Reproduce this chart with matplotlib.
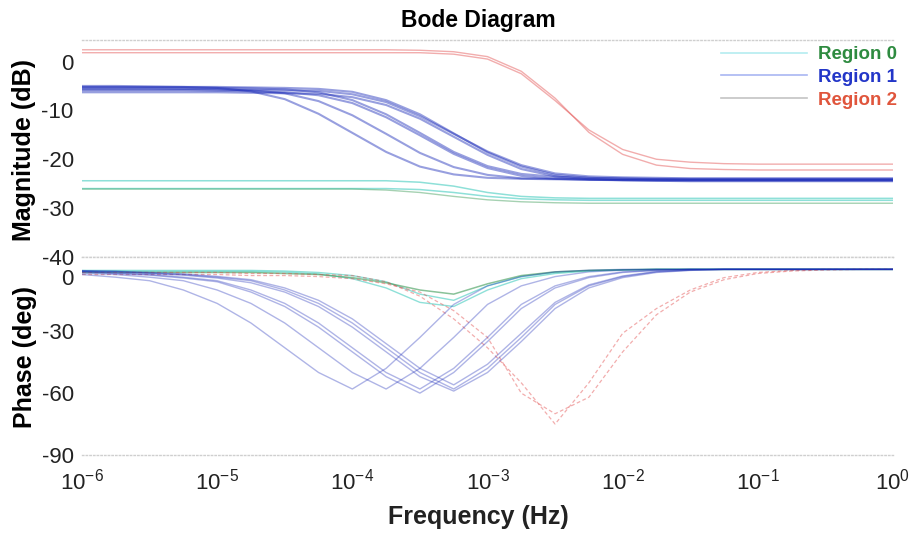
import matplotlib
matplotlib.use("Agg")
import matplotlib.pyplot as plt
from matplotlib.lines import Line2D

plt.rcParams['font.family'] = ['Liberation Sans', 'DejaVu Sans']
plt.rcParams['mathtext.fontset'] = 'custom'
plt.rcParams['mathtext.rm'] = 'Liberation Sans'
plt.rcParams['mathtext.it'] = 'Liberation Sans:italic'
plt.rcParams['mathtext.bf'] = 'Liberation Sans:bold'
plt.rcParams['axes.unicode_minus'] = False

# ---------------- data ----------------
freq = [1e-6, 1.778e-6, 3.162e-6, 5.623e-6,
        1e-5, 1.778e-5, 3.162e-5, 5.623e-5,
        1e-4, 1.778e-4, 3.162e-4, 5.623e-4,
        1e-3, 1.778e-3, 3.162e-3, 5.623e-3,
        1e-2, 1.778e-2, 3.162e-2, 5.623e-2,
        1e-1, 1.778e-1, 3.162e-1, 5.623e-1,
        1.0]

# Region 1 (blue) magnitude, dB
mag_r1_a = [-5.0, -5.0, -5.1, -5.2, -5.4, -6.1, -7.7, -10.7, -14.6, -18.5, -21.5, -23.1, -23.8, -24.0, -24.1,
            -24.2, -24.2, -24.2, -24.2, -24.2, -24.2, -24.2, -24.2, -24.2, -24.2]
mag_r1_b = [-5.5, -5.5, -5.5, -5.6, -5.7, -5.9, -6.5, -8.1, -11.0, -14.8, -18.7, -21.6, -23.2, -23.9, -24.0,
            -24.1, -24.2, -24.2, -24.2, -24.2, -24.2, -24.2, -24.2, -24.2, -24.2]
mag_r1_c = [-5.3, -5.3, -5.3, -5.3, -5.4, -5.5, -5.7, -6.3, -7.9, -10.8, -14.6, -18.5, -21.4, -23.0, -23.6,
            -23.8, -23.9, -24.0, -24.0, -24.0, -24.0, -24.0, -24.0, -24.0, -24.0]
mag_r1_d = [-5.9, -5.9, -5.9, -5.9, -6.0, -6.1, -6.3, -6.9, -8.5, -11.4, -15.1, -18.9, -21.8, -23.4, -24.0,
            -24.2, -24.3, -24.4, -24.4, -24.4, -24.4, -24.4, -24.4, -24.4, -24.4]
mag_r1_e = [-5.2, -5.2, -5.2, -5.2, -5.2, -5.3, -5.4, -5.6, -6.2, -7.9, -10.8, -14.7, -18.6, -21.5, -23.2,
            -23.8, -24.0, -24.1, -24.2, -24.2, -24.2, -24.2, -24.2, -24.2, -24.2]
mag_r1_f = [-6.3, -6.3, -6.3, -6.3, -6.3, -6.4, -6.5, -6.6, -7.3, -8.9, -11.7, -15.4, -19.1, -22.0, -23.5,
            -24.1, -24.3, -24.4, -24.5, -24.5, -24.5, -24.5, -24.5, -24.5, -24.5]
mag_r1_g = [-5.7, -5.7, -5.7, -5.7, -5.7, -5.8, -5.9, -6.0, -6.7, -8.3, -11.2, -14.8, -18.4, -21.2, -22.9,
            -23.5, -23.7, -23.8, -23.9, -23.9, -23.9, -23.9, -23.9, -23.9, -23.9]

# Region 1 (blue) phase, deg
ph_r1_a = [-2.5, -3.8, -5.5, -10, -16.5, -26, -38, -50, -58, -48, -33, -17, -8, -3.5, -1.2, -0.4,
           0, 0, 0, 0, 0, 0, 0, 0, 0]
ph_r1_b = [-1.8, -2.5, -3.8, -5.5, -10, -16.5, -26, -38, -50, -58, -48, -33, -17, -8, -3.5, -1.2, -0.4,
           0, 0, 0, 0, 0, 0, 0, 0]
ph_r1_c = [-1.0, -1.8, -2.5, -3.8, -5.5, -10, -16.5, -26, -38, -50, -58, -48, -33, -17, -8, -3.5, -1.2, -0.4,
           0, 0, 0, 0, 0, 0, 0]
ph_r1_d = [-1.2, -2.0, -2.8, -4.2, -6.0, -11, -18, -28, -40, -52, -60, -50, -35, -19, -9, -4, -1.5, -0.5,
           0, 0, 0, 0, 0, 0, 0]
ph_r1_e = [-0.7, -1.0, -1.8, -2.5, -3.8, -5.5, -10, -16.5, -26, -38, -50, -58, -48, -33, -17, -8, -3.5, -1.2, -0.4,
           0, 0, 0, 0, 0, 0]
ph_r1_f = [-0.9, -1.3, -2.0, -2.8, -4.2, -6.5, -11, -18, -28, -40, -52, -59, -50, -35, -19, -9, -4, -1.5, -0.5,
           0, 0, 0, 0, 0, 0]
ph_r1_g = [-0.6, -0.9, -1.5, -2.2, -3.4, -5.0, -9, -15, -24, -36, -48, -56, -46, -31, -16, -7.5, -3.2, -1.0, -0.3,
           0, 0, 0, 0, 0, 0]

# Region 0 (cyan / green) magnitude, dB
mag_r0_a = [-24.4] * 10 + [-24.7, -25.5, -26.8, -27.6, -27.9] + [-28.0] * 10
mag_r0_b = [-26.0] * 10 + [-26.2, -26.8, -27.6, -28.1, -28.3] + [-28.4] * 10
mag_r0_c = [-26.1] * 9 + [-26.3, -26.8, -27.6, -28.3, -28.7, -28.9] + [-29.0] * 10

# Region 0 phase, deg
ph_r0_a = [-0.5] * 6 + [-0.8, -1.5, -3, -6, -12, -15, -8, -3.5, -1.5, -0.6, -0.2] + [0] * 8
ph_r0_b = [-1.0] * 6 + [-1.3, -2.2, -4.5, -9, -16, -18, -10, -4.5, -2, -0.8, -0.3] + [0] * 8
ph_r0_c = [-1.5] * 6 + [-2, -2.5, -4, -6.5, -10, -12, -7, -3, -1.2, -0.5, -0.2] + [0] * 8

# Region 2 (red) magnitude, dB
mag_r2_a = [1.8] * 11 + [1.5, 0.5, -2.5, -8, -14, -18, -20, -20.6, -20.9] + [-21.0] * 5
mag_r2_b = [2.4] * 10 + [2.3, 2.0, 1.0, -2, -7.5, -14.5, -19, -21.2, -21.9, -22.1] + [-22.2] * 5

# Region 2 phase, deg
ph_r2_a = [-1.5] * 5 + [-2, -2, -2.5, -3, -6, -13, -24, -38, -55, -75, -55, -31, -19, -10, -4, -1.5, -0.5] + [0] * 3
ph_r2_b = [-2.5] * 5 + [-3, -3, -3.5, -4.5, -7, -11, -20, -33, -60, -70, -62, -40, -22, -11, -5, -2, -0.8, -0.3] + [0] * 2

region_labels = ['Region 0', 'Region 1', 'Region 2']
xtick_vals = [1e-6, 1e-5, 1e-4, 1e-3, 1e-2, 1e-1, 1e0]
xtick_labels = ['$10^{-6}$', '$10^{-5}$', '$10^{-4}$', '$10^{-3}$', '$10^{-2}$', '$10^{-1}$', '$10^{0}$']
mag_ticks = [0, -10, -20, -30, -40]
ph_ticks = [0, -30, -60, -90]

# ---------------- figure ----------------
W, H = 917, 538
fig = plt.figure(figsize=(W / 100, H / 100), dpi=100)
left, right = 82, 893
ax_mag = fig.add_axes([left / W, 1 - 257 / H, (right - left) / W, (257 - 40) / H])
ax_ph = fig.add_axes([left / W, 1 - 455 / H, (right - left) / W, (455 - 257) / H], sharex=ax_mag)

blue = '#1a2ab8'
cyan = '#5fd3c8'
green = '#3a9a55'
red = '#e24a4a'

for m in [mag_r0_a, mag_r0_b]:
    ax_mag.semilogx(freq, m, color=cyan, lw=1.1, alpha=0.7)
ax_mag.semilogx(freq, mag_r0_c, color=green, lw=1.0, alpha=0.45)
for m in [mag_r2_a, mag_r2_b]:
    ax_mag.semilogx(freq, m, color=red, lw=1.0, alpha=0.45)
for m in [mag_r1_a, mag_r1_b, mag_r1_c, mag_r1_d, mag_r1_e, mag_r1_f, mag_r1_g]:
    ax_mag.semilogx(freq, m, color=blue, lw=1.5, alpha=0.45)

for p in [ph_r0_a, ph_r0_b]:
    ax_ph.semilogx(freq, p, color=cyan, lw=1.0, alpha=0.7)
ax_ph.semilogx(freq, ph_r0_c, color=green, lw=1.1, alpha=0.6)
for p in [ph_r2_a, ph_r2_b]:
    ax_ph.semilogx(freq, p, color=red, lw=0.9, alpha=0.45, ls=(0, (3, 2)))
for p in [ph_r1_a, ph_r1_b, ph_r1_c, ph_r1_d, ph_r1_e, ph_r1_f, ph_r1_g]:
    ax_ph.semilogx(freq, p, color=blue, lw=1.0, alpha=0.35)

ax_mag.set_xlim(1e-6, 1)
ax_mag.set_ylim(-40, 4.4)
ax_ph.set_ylim(-90, 6)

ax_mag.set_yticks(mag_ticks)
ax_mag.set_yticklabels([str(t) for t in mag_ticks])
ax_ph.set_yticks(ph_ticks)
ax_ph.set_yticklabels([str(t) for t in ph_ticks])
ax_ph.set_xticks(xtick_vals)
ax_ph.set_xticklabels(xtick_labels)
ax_ph.minorticks_off()
ax_mag.minorticks_off()
plt.setp(ax_mag.get_xticklabels(), visible=False)

for ax in (ax_mag, ax_ph):
    ax.tick_params(axis='both', length=0, labelsize=16, colors='#222222')
    ax.tick_params(axis='y', pad=6)
    ax.tick_params(axis='x', pad=10)
    for s in ('left', 'right'):
        ax.spines[s].set_visible(False)
    for s in ('top', 'bottom'):
        ax.spines[s].set_color('#cfcfcf')
        ax.spines[s].set_linestyle(':')
        ax.spines[s].set_linewidth(1.0)

# keep the phase "0" label clear of the magnitude "-40" label, as in the reference
ax_ph.get_yticklabels()[0].set_verticalalignment('top')

fig.text(478 / W, 1 - 20 / H, 'Bode Diagram', ha='center', va='center',
         fontsize=16.5, fontweight='bold')
fig.text(478 / W, 1 - 517 / H, 'Frequency (Hz)', ha='center', va='center',
         fontsize=18, fontweight='bold', color='#222222')
fig.text(24 / W, 1 - 150 / H, 'Magnitude (dB)', ha='center', va='center',
         rotation=90, fontsize=18, fontweight='bold')
fig.text(25 / W, 1 - 357 / H, 'Phase (deg)', ha='center', va='center',
         rotation=90, fontsize=18, fontweight='bold')

handles = [Line2D([], [], color='#b4ecf0', lw=1.2),
           Line2D([], [], color='#a9b6f2', lw=1.2),
           Line2D([], [], color='#c4c4c4', lw=1.2)]
ax_mag.legend(handles, region_labels, loc='upper right',
              bbox_to_anchor=(897 / W, 1 - 46 / H), bbox_transform=fig.transFigure,
              frameon=False, borderaxespad=0, borderpad=0,
              handlelength=4.6, handletextpad=0.6, labelspacing=0.3,
              labelcolor=['#2e8b40', '#2336c8', '#e0553c'],
              prop={'weight': 'bold', 'size': 13.5})

fig.savefig('out.png', dpi=100)
